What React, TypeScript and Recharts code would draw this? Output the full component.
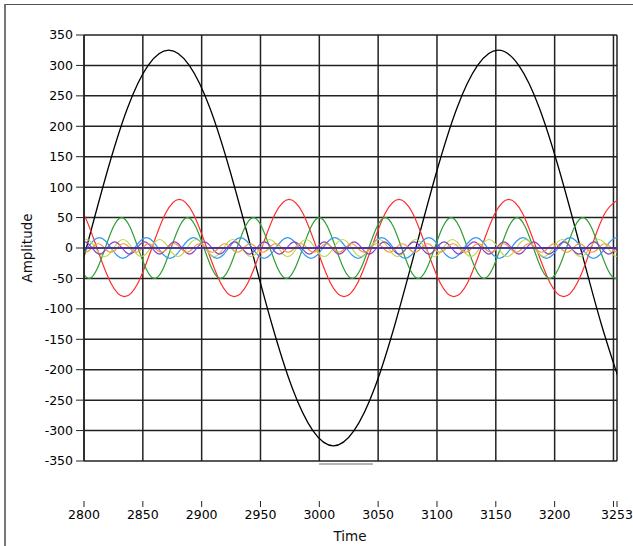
import { LineChart, Line, XAxis, YAxis, CartesianGrid } from 'recharts';

// waveforms are stored like LabVIEW waveforms: start time, step, sampled values
const blackT0 = 2784.5;
const blackDt = 17.5;
const blackValues = [
  -124, 0, 124, 230, 300, 325, 300, 230, 124, 0, -124, -230, -300, -325,
  -300, -230, -124, 0, 124, 230, 300, 325, 300, 230, 124, 0, -124, -230,
];

const redT0 = 2787.67;
const redDt = 11.667;
const redValues = [
  80, 57, 0, -57, -80, -57, 0, 57,
  80, 57, 0, -57, -80, -57, 0, 57,
  80, 57, 0, -57, -80, -57, 0, 57,
  80, 57, 0, -57, -80, -57, 0, 57,
  80, 57, 0, -57, -80, -57, 0, 57,
  80,
];

const greenT0 = 2797;
const greenDt = 7;
const greenValues = [
  -35, -50, -35, 0, 35, 50, 35, 0,
  -35, -50, -35, 0, 35, 50, 35, 0,
  -35, -50, -35, 0, 35, 50, 35, 0,
  -35, -50, -35, 0, 35, 50, 35, 0,
  -35, -50, -35, 0, 35, 50, 35, 0,
  -35, -50, -35, 0, 35, 50, 35, 0,
  -35, -50, -35, 0, 35, 50, 35, 0,
  -35, -50, -35, 0, 35, 50, 35, 0,
  -35, -50, -35,
];

const blueT0 = 2798;
const blueDt = 5;
const blueValues = [
  -12, 0, 12, 17, 12, 0, -12, -17,
  -12, 0, 12, 17, 12, 0, -12, -17,
  -12, 0, 12, 17, 12, 0, -12, -17,
  -12, 0, 12, 17, 12, 0, -12, -17,
  -12, 0, 12, 17, 12, 0, -12, -17,
  -12, 0, 12, 17, 12, 0, -12, -17,
  -12, 0, 12, 17, 12, 0, -12, -17,
  -12, 0, 12, 17, 12, 0, -12, -17,
  -12, 0, 12, 17, 12, 0, -12, -17,
  -12, 0, 12, 17, 12, 0, -12, -17,
  -12, 0, 12, 17, 12, 0, -12, -17,
  -12, 0, 12, 17, 12,
];

const yellowT0 = 2798.11;
const yellowDt = 3.889;
const yellowValues = [
  10, 14, 10, 0, -10, -14, -10, 0,
  10, 14, 10, 0, -10, -14, -10, 0,
  10, 14, 10, 0, -10, -14, -10, 0,
  10, 14, 10, 0, -10, -14, -10, 0,
  10, 14, 10, 0, -10, -14, -10, 0,
  10, 14, 10, 0, -10, -14, -10, 0,
  10, 14, 10, 0, -10, -14, -10, 0,
  10, 14, 10, 0, -10, -14, -10, 0,
  10, 14, 10, 0, -10, -14, -10, 0,
  10, 14, 10, 0, -10, -14, -10, 0,
  10, 14, 10, 0, -10, -14, -10, 0,
  10, 14, 10, 0, -10, -14, -10, 0,
  10, 14, 10, 0, -10, -14, -10, 0,
  10, 14, 10, 0, -10, -14, -10, 0,
  10, 14, 10, 0, -10, -14, -10, 0,
];

const purpleT0 = 2797.36;
const purpleDt = 3.182;
const purpleValues = [
  7, 10, 7, 0, -7, -10, -7, 0,
  7, 10, 7, 0, -7, -10, -7, 0,
  7, 10, 7, 0, -7, -10, -7, 0,
  7, 10, 7, 0, -7, -10, -7, 0,
  7, 10, 7, 0, -7, -10, -7, 0,
  7, 10, 7, 0, -7, -10, -7, 0,
  7, 10, 7, 0, -7, -10, -7, 0,
  7, 10, 7, 0, -7, -10, -7, 0,
  7, 10, 7, 0, -7, -10, -7, 0,
  7, 10, 7, 0, -7, -10, -7, 0,
  7, 10, 7, 0, -7, -10, -7, 0,
  7, 10, 7, 0, -7, -10, -7, 0,
  7, 10, 7, 0, -7, -10, -7, 0,
  7, 10, 7, 0, -7, -10, -7, 0,
  7, 10, 7, 0, -7, -10, -7, 0,
  7, 10, 7, 0, -7, -10, -7, 0,
  7, 10, 7, 0, -7, -10, -7, 0,
  7, 10, 7, 0, -7, -10, -7, 0,
  7, 10, 7, 0, -7, -10, -7, 0,
];

const orangeT0 = 2795.85;
const orangeDt = 2.692;
const orangeValues = [
  0, -5, -7, -5, 0, 5, 7, 5,
  0, -5, -7, -5, 0, 5, 7, 5,
  0, -5, -7, -5, 0, 5, 7, 5,
  0, -5, -7, -5, 0, 5, 7, 5,
  0, -5, -7, -5, 0, 5, 7, 5,
  0, -5, -7, -5, 0, 5, 7, 5,
  0, -5, -7, -5, 0, 5, 7, 5,
  0, -5, -7, -5, 0, 5, 7, 5,
  0, -5, -7, -5, 0, 5, 7, 5,
  0, -5, -7, -5, 0, 5, 7, 5,
  0, -5, -7, -5, 0, 5, 7, 5,
  0, -5, -7, -5, 0, 5, 7, 5,
  0, -5, -7, -5, 0, 5, 7, 5,
  0, -5, -7, -5, 0, 5, 7, 5,
  0, -5, -7, -5, 0, 5, 7, 5,
  0, -5, -7, -5, 0, 5, 7, 5,
  0, -5, -7, -5, 0, 5, 7, 5,
  0, -5, -7, -5, 0, 5, 7, 5,
  0, -5, -7, -5, 0, 5, 7, 5,
  0, -5, -7, -5, 0, 5, 7, 5,
  0, -5, -7, -5, 0, 5, 7, 5,
  0, -5, -7, -5, 0, 5, 7, 5,
];

const dcT0 = 2800;
const dcDt = 453;
const dcValues = [0, 0];

const xTicks = [2800, 2850, 2900, 2950, 3000, 3050, 3100, 3150, 3200, 3250, 3253];
const yTicks = [-350, -300, -250, -200, -150, -100, -50, 0, 50, 100, 150, 200, 250, 300, 350];

const toPoints = (t0: number, dt: number, vals: number[]) =>
  vals.map((v, i) => ({ t: t0 + i * dt, v }));

const series = [
  { name: 'h1', color: '#000000', width: 1.3, data: toPoints(blackT0, blackDt, blackValues) },
  { name: 'h3', color: '#ff2b2b', width: 1.2, data: toPoints(redT0, redDt, redValues) },
  { name: 'h5', color: '#2e9e32', width: 1.2, data: toPoints(greenT0, greenDt, greenValues) },
  { name: 'h7', color: '#3399ee', width: 1.2, data: toPoints(blueT0, blueDt, blueValues) },
  { name: 'h9', color: '#bcd848', width: 1.2, data: toPoints(yellowT0, yellowDt, yellowValues) },
  { name: 'h11', color: '#8a44c0', width: 1.2, data: toPoints(purpleT0, purpleDt, purpleValues) },
  { name: 'h13', color: '#ff9a2e', width: 1.2, data: toPoints(orangeT0, orangeDt, orangeValues) },
  { name: 'dc', color: '#4a35a8', width: 2, data: toPoints(dcT0, dcDt, dcValues) },
];

const font = '"DejaVu Sans", Tahoma, sans-serif';

function TimeTick(props: any) {
  const { x, y, payload } = props;
  const label = payload.value === 3250 ? '' : String(payload.value);
  return (
    <g>
      <line x1={x} x2={x} y1={y + 40} y2={y + 46} stroke="#222" strokeWidth={1} />
      <text x={x} y={y + 58} textAnchor="middle" fontSize={12.5} fontFamily={font} fill="#000">
        {label}
      </text>
    </g>
  );
}

export default function App() {
  return (
    <div style={{ position: 'absolute', left: 0, top: 0, width: 633, height: 546, background: '#fff', fontFamily: font }}>
      <div style={{ position: 'absolute', left: 4, top: 4, right: 0, bottom: 0, borderLeft: '2px solid #777', borderTop: '1px solid #555' }} />
      <LineChart width={633} height={546} margin={{ top: 35, right: 16, bottom: 0, left: 0 }}>
        <CartesianGrid stroke="#222" strokeWidth={1.5} />
        <XAxis
          type="number"
          dataKey="t"
          domain={[2800, 3253]}
          ticks={xTicks}
          interval={0}
          allowDataOverflow
          height={85}
          axisLine={false}
          tickLine={false}
          tickSize={0}
          tickMargin={0}
          tick={<TimeTick />}
        />
        <YAxis
          type="number"
          domain={[-350, 350]}
          ticks={yTicks}
          interval={0}
          allowDataOverflow
          width={84}
          axisLine={{ stroke: '#222', strokeWidth: 1.5 }}
          tickLine={{ stroke: '#222' }}
          tickSize={8}
          tickMargin={3}
          tick={{ fontSize: 12.5, fontFamily: font, fill: '#000' }}
        />
        {series.map(s => (
          <Line
            key={s.name}
            data={s.data}
            dataKey="v"
            type="natural"
            stroke={s.color}
            strokeWidth={s.width}
            dot={false}
            activeDot={false}
            isAnimationActive={false}
          />
        ))}
      </LineChart>
      <div style={{ position: 'absolute', left: 319, top: 463, width: 54, height: 2, background: '#b4b4b4' }} />
      <div style={{ position: 'absolute', left: 27, top: 248, transform: 'translate(-50%, -50%) rotate(-90deg)', fontSize: 13.5, color: '#111', whiteSpace: 'nowrap' }}>
        Amplitude
      </div>
      <div style={{ position: 'absolute', left: 350, top: 536, transform: 'translate(-50%, -50%)', fontSize: 13.5, color: '#111', whiteSpace: 'nowrap' }}>
        Time
      </div>
    </div>
  );
}
